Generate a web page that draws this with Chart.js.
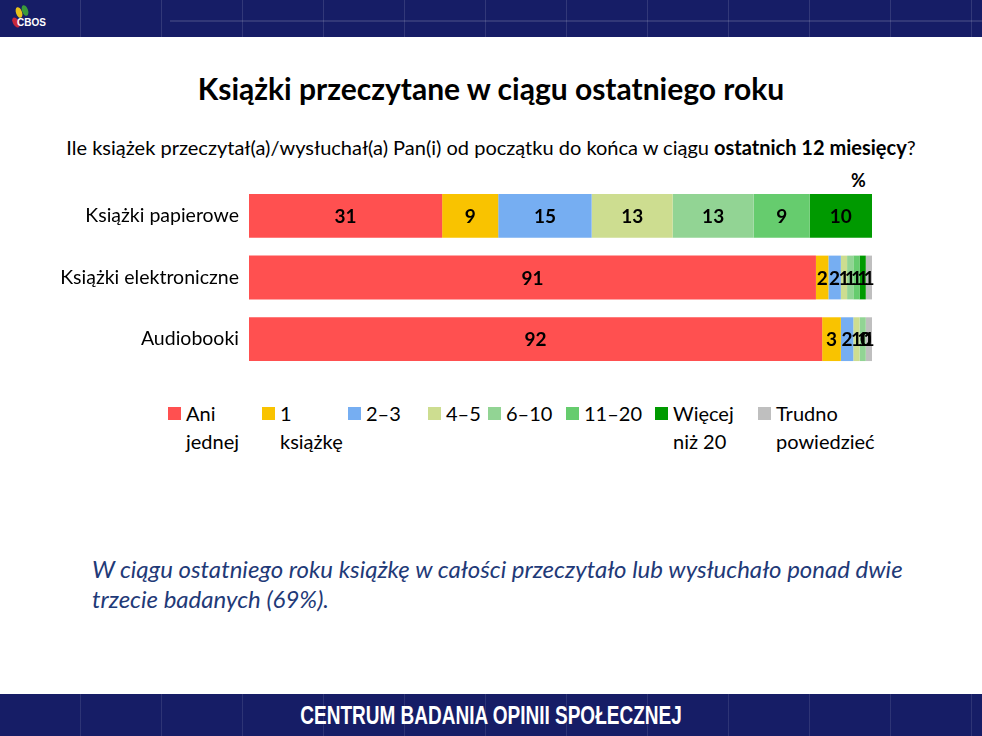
<!DOCTYPE html>
<html lang="pl">
<head>
<meta charset="utf-8">
<script src="https://cdn.jsdelivr.net/npm/chart.js@4.4.1/dist/chart.umd.min.js"></script>
<style>
  body { margin: 0; width: 982px; height: 736px; position: relative; background: #fff; font-family: Lato, 'Open Sans', sans-serif; overflow: hidden; }
  .top { position: absolute; left: 0; top: 0; width: 982px; height: 37px; background: #161d66;
         background-image: repeating-linear-gradient(90deg, rgba(255,255,255,0) 0 80px, rgba(255,255,255,0.12) 80px 81px); }
  .top .line { position: absolute; left: 170px; right: 0; top: 20px; height: 2px; background: rgba(255,255,255,0.12); }
  .logo { position: absolute; left: 5px; top: 4px; width: 60px; height: 30px; }
  .logo span { position: absolute; width: 6px; height: 11px; border-radius: 50%; }
  .logo b { position: absolute; left: 12px; top: 13px; color: #fff; font: bold 10px 'Liberation Sans', sans-serif; }
  .bottom { position: absolute; left: 0; top: 694px; width: 982px; height: 42px; background: #161d66;
            background-image: repeating-linear-gradient(90deg, rgba(255,255,255,0) 0 80px, rgba(255,255,255,0.10) 80px 81px); }
  .bottom div { position: absolute; left: 0; width: 982px; top: 7px; text-align: center; color: #fff;
                font: bold 25px 'Liberation Sans', sans-serif; transform: scaleX(0.76); transform-origin: 491px 0; }
  h1 { position: absolute; left: 0; width: 982px; top: 70px; margin: 0; text-align: center; font-size: 30px; line-height: 36px; font-weight: bold; color: #000; }
  .q { position: absolute; left: 0; width: 982px; top: 135px; text-align: center; font-size: 20px; line-height: 24px; color: #000; }
  .pct { position: absolute; left: 851px; top: 169px; font-size: 18px; font-weight: bold; }
  #wrap { position: absolute; left: 40px; top: 185px; width: 842px; height: 185px; }
  .leg { position: absolute; top: 399px; font-size: 20px; line-height: 28px; color: #000; }
  .leg i { position: absolute; left: 0; top: 8px; width: 13px; height: 13px; }
  .leg span { display: block; margin-left: 18px; }
  .note { position: absolute; left: 92px; top: 554px; width: 830px; font-size: 24px; font-style: italic; color: #1f3a78; line-height: 30px; }
</style>
</head>
<body>
<div class="top"><div class="line"></div>
  <div class="logo">
    <span style="left:11px;top:3px;background:#e8c21a;transform:rotate(-20deg)"></span>
    <span style="left:17px;top:1px;background:#3a9a3a;transform:rotate(-20deg)"></span>
    <span style="left:8px;top:13px;background:#c8283a;transform:rotate(-30deg)"></span>
    <b>CBOS</b>
  </div>
</div>
<h1>Książki przeczytane w ciągu ostatniego roku</h1>
<div class="q">Ile książek przeczytał(a)/wysłuchał(a) Pan(i) od początku do końca w ciągu <b>ostatnich 12 miesięcy</b>?</div>
<div class="pct">%</div>
<div id="wrap"><canvas id="chart"></canvas></div>
<div id="legend"></div>
<div class="note">W ciągu ostatniego roku książkę w całości przeczytało lub wysłuchało ponad dwie trzecie badanych (69%).</div>
<div class="bottom"><div>CENTRUM BADANIA OPINII SPOŁECZNEJ</div></div>

<script>
const categories = ['Książki papierowe', 'Książki elektroniczne', 'Audiobooki'];
const seriesNames = [['Ani', 'jednej'], ['1', 'książkę'], ['2–3'], ['4–5'], ['6–10'], ['11–20'], ['Więcej', 'niż 20'], ['Trudno', 'powiedzieć']];
const seriesColors = ['#ff5050', '#f9c300', '#76aef2', '#cddd90', '#92d494', '#66cc6e', '#009a00', '#bfbfbf'];
const aniJednej = [31, 91, 92];
const jedna = [9, 2, 3];
const dwaTrzy = [15, 2, 2];
const czteryPiec = [13, 1, 1];
const szescDziesiec = [13, 1, 1];
const jedenascieDwadziescia = [9, 1, 0];
const wiecej = [10, 1, 0];
const trudno = [null, 1, 1];
const seriesValues = [aniJednej, jedna, dwaTrzy, czteryPiec, szescDziesiec, jedenascieDwadziescia, wiecej, trudno];

// labels in the middle of each segment (zeros shown too, like the original)
const barLabels = {
    id: 'barLabels',
    afterDatasetsDraw(chart) {
        const ctx = chart.ctx;
        ctx.save();
        ctx.font = 'bold 19px Lato, "Open Sans", sans-serif';
        ctx.fillStyle = '#000';
        ctx.textAlign = 'center';
        ctx.textBaseline = 'middle';
        chart.data.datasets.forEach((ds, i) => {
            chart.getDatasetMeta(i).data.forEach((bar, j) => {
                const v = ds.data[j];
                if (v === null || v === undefined) return;
                const x = (bar.x + bar.base) / 2;
                ctx.fillText(String(v), x, bar.y + 1);
            });
        });
        ctx.restore();
    }
};

const chart = new Chart(document.getElementById('chart').getContext('2d'), {
    type: 'bar',
    data: {
        labels: categories,
        datasets: seriesValues.map((vals, i) => ({
            label: seriesNames[i].join(' '),
            data: vals,
            backgroundColor: seriesColors[i],
            borderWidth: 0,
            barPercentage: 0.71,
            categoryPercentage: 1
        }))
    },
    options: {
        indexAxis: 'y',
        responsive: true,
        maintainAspectRatio: false,
        animation: false,
        layout: { padding: { right: 10, top: 0, bottom: 0 } },
        plugins: { legend: { display: false }, tooltip: { enabled: false } },
        scales: {
            x: { stacked: true, min: 0, max: 100, display: false },
            y: {
                stacked: true,
                grid: { display: false },
                border: { display: false },
                ticks: { color: '#000', font: { size: 19.5, family: 'Lato, "Open Sans", sans-serif' }, padding: 2 },
                afterFit(scale) {
                    scale.width = 209;
                    scale.paddingTop = 0;
                    scale.paddingBottom = 0;
                }
            }
        }
    },
    plugins: [barLabels]
});

// legend in HTML, two-line labels
const legendLeft = [168, 262, 348, 428, 488, 566, 655, 758];
const legend = document.getElementById('legend');
seriesNames.forEach((name, i) => {
    const item = document.createElement('div');
    item.className = 'leg';
    item.style.left = legendLeft[i] + 'px';
    item.innerHTML = '<i style="background:' + seriesColors[i] + '"></i>' + name.map(t => '<span>' + t + '</span>').join('');
    legend.appendChild(item);
});
</script>
</body>
</html>
